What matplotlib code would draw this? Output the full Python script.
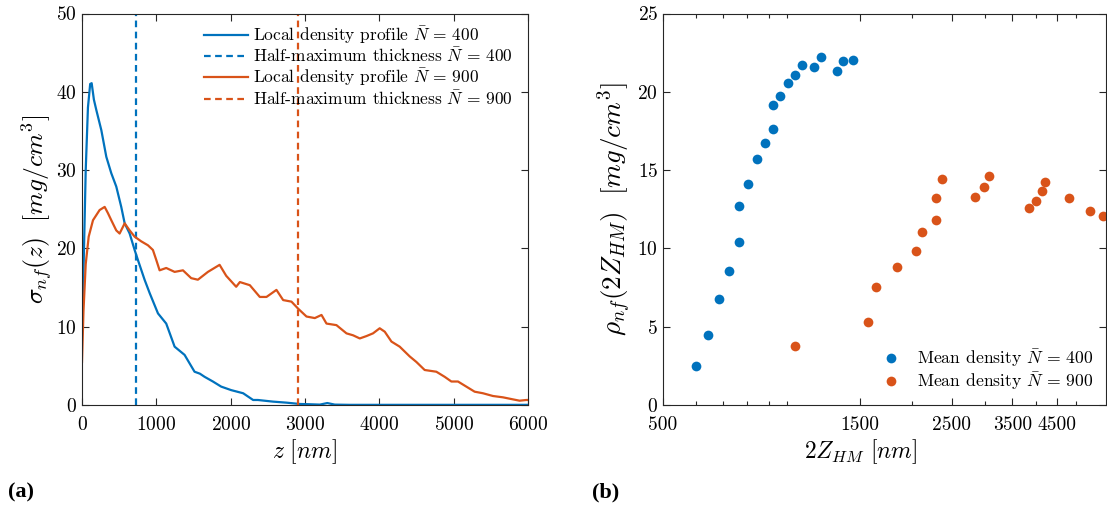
import matplotlib
matplotlib.use("Agg")
import matplotlib.pyplot as plt
from matplotlib.ticker import FixedLocator, NullFormatter

plt.rcParams.update({
    "font.family": "serif",
    "font.serif": ["cmr10"],
    "mathtext.fontset": "cm",
    "axes.formatter.use_mathtext": True,
    "axes.unicode_minus": False,
})

BLUE = "#0072BD"
ORANGE = "#D95319"

# ---- panel (a): local density profiles ----
z400 = [0, 20, 50, 80, 110, 130, 160, 192, 260, 327, 394, 461, 528, 574, 641, 708,
        753, 842, 910, 1022, 1133, 1246, 1380, 1514, 1586, 1649, 1761, 1872, 2007,
        2168, 2302, 2366, 2571, 2751, 2930, 3050, 3200, 3300, 3400, 3600, 4000,
        4500, 5000, 5500, 6000]
s400 = [9.0, 17.0, 30.0, 38.0, 41.0, 41.1, 39.0, 37.7, 35.1, 31.7, 29.6, 27.9, 25.3,
        23.2, 21.9, 19.8, 18.5, 16.0, 14.3, 11.7, 10.4, 7.45, 6.4, 4.25, 4.0, 3.6,
        3.0, 2.35, 1.9, 1.5, 0.64, 0.64, 0.43, 0.3, 0.13, 0.1, 0.05, 0.25, 0.05,
        0.02, 0.02, 0.02, 0.02, 0.02, 0.02]

z900 = [0, 20, 50, 90, 148, 237, 305, 349, 394, 461, 506, 574, 641, 708, 797, 887,
        954, 1000, 1044, 1133, 1246, 1358, 1469, 1559, 1694, 1851, 1940, 2074, 2124,
        2258, 2392, 2482, 2616, 2706, 2818, 2908, 3020, 3132, 3222, 3289, 3423,
        3558, 3647, 3737, 3826, 3915, 4005, 4073, 4163, 4274, 4409, 4498, 4610,
        4767, 4879, 4969, 5058, 5170, 5282, 5394, 5528, 5663, 5797, 5887, 5977, 6000]
s900 = [5.5, 12.0, 18.0, 21.5, 23.6, 24.9, 25.3, 24.5, 23.6, 22.3, 21.9, 23.2, 22.3,
        21.5, 20.9, 20.4, 19.8, 18.5, 17.2, 17.5, 17.0, 17.2, 16.2, 16.0, 17.0, 17.9,
        16.5, 15.1, 15.7, 15.3, 13.8, 13.8, 14.7, 13.4, 13.2, 12.3, 11.3, 11.1, 11.5,
        10.4, 10.2, 9.15, 8.9, 8.5, 8.8, 9.15, 9.8, 9.36, 8.1, 7.45, 6.2, 5.5, 4.47,
        4.25, 3.6, 3.0, 3.0, 2.35, 1.7, 1.5, 1.15, 0.98, 0.72, 0.55, 0.64, 0.64]

zhm400 = 730
zhm900 = 2900

# ---- panel (b): mean density vs. thickness ----
t400 = [600, 641, 682, 722, 762, 762, 802, 843, 883, 921, 921, 962, 1001, 1041,
        1083, 1160, 1203, 1321, 1362, 1441]
r400 = [2.48, 4.5, 6.76, 8.57, 10.39, 12.68, 14.14, 15.71, 16.71, 17.62, 19.13,
        19.72, 20.57, 21.08, 21.74, 21.58, 22.24, 21.33, 21.95, 22.01]

t900 = [1041, 1565, 1640, 1840, 2045, 2122, 2288, 2288, 2365, 2846, 2995, 3081,
        3850, 3996, 4126, 4194, 4800, 5406, 5800]
r900 = [3.75, 5.28, 7.55, 8.84, 9.84, 11.07, 11.79, 13.23, 14.46, 13.3, 13.95,
        14.63, 12.61, 13.02, 13.66, 14.27, 13.19, 12.38, 12.04]

xticks_b = [500, 1500, 2500, 3500, 4500]
xminor_b = [600, 700, 800, 900, 1000, 2000, 3000, 4000, 5000]

fig = plt.figure(figsize=(11.07, 5.13), dpi=100)
W, H = 1107, 513
ax1 = fig.add_axes([82 / W, (H - 405) / H, 446 / W, 391.5 / H])
ax2 = fig.add_axes([663 / W, (H - 405) / H, 443 / W, 391.5 / H])

lw = 1.6
dash = (0, (3, 2))
ax1.plot(z400, s400, color=BLUE, lw=lw, label=r"Local density profile $\bar{N}\,=\,400$")
ax1.axvline(zhm400, color=BLUE, lw=lw, ls=dash,
            label=r"Half-maximum thickness $\bar{N}\,=\,400$")
ax1.plot(z900, s900, color=ORANGE, lw=lw, label=r"Local density profile $\bar{N}\,=\,900$")
ax1.axvline(zhm900, color=ORANGE, lw=lw, ls=dash,
            label=r"Half-maximum thickness $\bar{N}\,=\,900$")
ax1.set_xlim(0, 6000)
ax1.set_ylim(0, 50)
ax1.set_xticks(range(0, 6001, 1000))
ax1.set_yticks(range(0, 51, 10))
ax1.set_xlabel(r"$z\ [nm]$", fontsize=17)
ax1.xaxis.set_label_coords(0.5, -0.082)
ax1.set_ylabel(r"$\sigma_{nf}(z)\ \ [mg/cm^3]$", fontsize=18.5)
ax1.yaxis.set_label_coords(-0.06, 0.5)
ax1.legend(loc="upper right", bbox_to_anchor=(0.966, 0.973), frameon=False,
           fontsize=12.5, handlelength=2.5, handletextpad=0.3, labelspacing=0.05,
           borderaxespad=0, borderpad=0)

ax2.set_xscale("log")
ax2.plot(t400, r400, "o", color=BLUE, ms=7, mec="none",
         label=r"Mean density $\bar{N}\,=\,400$")
ax2.plot(t900, r900, "o", color=ORANGE, ms=7, mec="none",
         label=r"Mean density $\bar{N}\,=\,900$")
ax2.set_xlim(500, 5900)
ax2.set_ylim(0, 25)
ax2.xaxis.set_major_locator(FixedLocator(xticks_b))
ax2.xaxis.set_minor_locator(FixedLocator(xminor_b))
ax2.set_xticklabels([str(v) for v in xticks_b])
ax2.xaxis.set_minor_formatter(NullFormatter())
ax2.set_yticks(range(0, 26, 5))
ax2.set_xlabel(r"$2Z_{HM}\ [nm]$", fontsize=17)
ax2.xaxis.set_label_coords(0.447, -0.082)
ax2.set_ylabel(r"$\rho_{nf}(2Z_{HM})\ \ [mg/cm^3]$", fontsize=19.5)
ax2.yaxis.set_label_coords(-0.066, 0.5)
ax2.legend(loc="lower right", bbox_to_anchor=(0.971, 0.032), frameon=False,
           fontsize=12.7, handlelength=0.9, handletextpad=1.0, labelspacing=0.1,
           borderaxespad=0, borderpad=0)

for ax in (ax1, ax2):
    ax.tick_params(which="both", direction="in", top=True, right=True,
                   labelsize=14, color="#262626", width=0.8)
    ax.tick_params(axis="x", which="major", pad=8)
    ax.tick_params(which="major", length=5)
    ax.tick_params(which="minor", length=3)
    for sp in ax.spines.values():
        sp.set_color("#262626")
        sp.set_linewidth(0.8)

fig.text(8 / W, 1 - 492 / H, "(a)", fontsize=16, fontweight="bold",
         family="Liberation Serif", va="center")
fig.text(592 / W, 1 - 492 / H, "(b)", fontsize=16, fontweight="bold",
         family="Liberation Serif", va="center")

fig.savefig("out.png", dpi=100)
